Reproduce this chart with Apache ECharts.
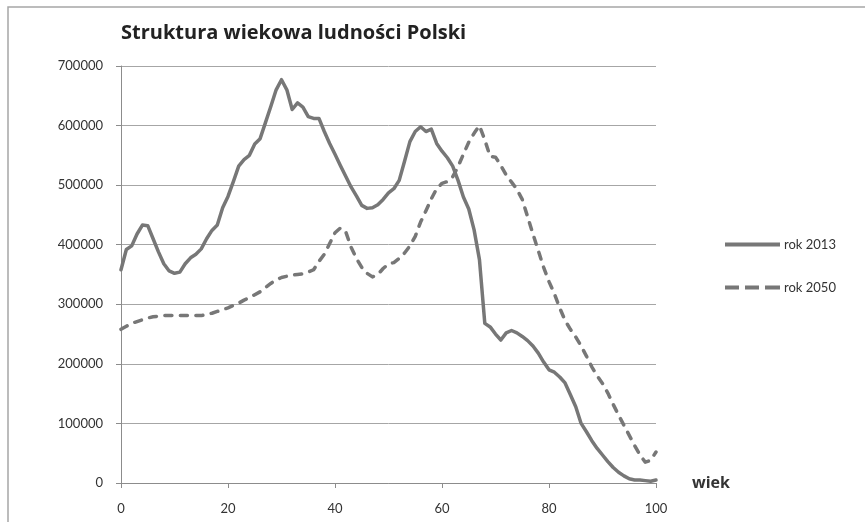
<!DOCTYPE html>
<html>
<head>
<meta charset="utf-8">
<script src="https://cdn.jsdelivr.net/npm/echarts@6/dist/echarts.min.js"></script>
<style>
  html, body { margin: 0; padding: 0; background: #fff; }
  #chart { width: 865px; height: 522px; }
</style>
</head>
<body>
<div id="chart"></div>
<script>
// Population of Poland by single year of age (0..100), persons
const ages = Array.from({ length: 101 }, (_, i) => i);

const pop2013 = [
  358000, 392000, 398000, 418000, 433000, 432000, 410000, 388000, 368000, 356000,
  352000, 354000, 368000, 378000, 384000, 393000, 410000, 424000, 433000, 462000,
  481000, 506000, 532000, 543000, 550000, 569000, 578000, 605000, 632000, 660000,
  677000, 660000, 627000, 638000, 631000, 615000, 612000, 612000, 590000, 570000,
  552000, 533000, 515000, 497000, 482000, 466000, 461000, 462000, 467000, 476000,
  487000, 494000, 508000, 540000, 573000, 590000, 598000, 590000, 594000, 570000,
  557000, 546000, 532000, 508000, 480000, 460000, 425000, 375000, 268000, 262000,
  250000, 240000, 252000, 256000, 252000, 246000, 239000, 230000, 218000, 203000,
  190000, 186000, 178000, 168000, 148000, 128000, 100000, 86000, 71000, 58000,
  47000, 36000, 26000, 18000, 12000, 7000, 5000, 5000, 4000, 3000,
  5000
];

const pop2050 = [
  258000, 263000, 268000, 271000, 274000, 277000, 279000, 280000, 281000, 281000,
  281000, 281000, 281000, 281000, 281000, 281000, 283000, 285000, 288000, 291000,
  294000, 298000, 302000, 307000, 311000, 316000, 321000, 328000, 335000, 341000,
  345000, 347000, 349000, 350000, 351000, 354000, 358000, 372000, 384000, 402000,
  420000, 428000, 422000, 396000, 377000, 362000, 352000, 346000, 350000, 360000,
  368000, 370000, 377000, 386000, 398000, 414000, 438000, 457000, 477000, 494000,
  503000, 506000, 514000, 531000, 552000, 572000, 587000, 600000, 576000, 548000,
  547000, 533000, 517000, 505000, 493000, 476000, 447000, 418000, 390000, 362000,
  338000, 318000, 294000, 273000, 258000, 245000, 230000, 213000, 195000, 180000,
  167000, 151000, 132000, 114000, 97000, 80000, 63000, 47000, 35000, 38000,
  52000
];

const seriesNames = ['rok 2013', 'rok 2050'];
const chartTitle = 'Struktura wiekowa ludności Polski';
const xName = 'wiek';

const FONT = 'Lato, "Open Sans", sans-serif';
const TITLE_FONT = '"Open Sans", Lato, sans-serif';
const LINE = '#777777';
const TEXT = '#333333';

// Legend swatches: a plain stroke and a three-dash stroke
const ICON_SOLID = 'path://M0,0h55v4H0z';
const ICON_DASHED = 'path://M0,0h14v4H0zM20,0h14v4H20zM40,0h15v4H40z';

const chart = echarts.init(document.getElementById('chart'), null, { renderer: 'canvas' });

chart.setOption({
  animation: false,
  backgroundColor: '#ffffff',
  textStyle: { fontFamily: FONT },
  title: {
    text: chartTitle,
    left: 116,
    top: 18,
    textStyle: { fontFamily: TITLE_FONT, fontSize: 20, fontWeight: 'bold', color: '#222' }
  },
  legend: {
    orient: 'vertical',
    left: 725,
    top: 238,
    padding: 0,
    itemWidth: 55,
    itemHeight: 4,
    itemGap: 30,
    data: [
      { name: seriesNames[0], icon: ICON_SOLID },
      { name: seriesNames[1], icon: ICON_DASHED }
    ],
    textStyle: { fontFamily: FONT, fontSize: 13, color: TEXT, padding: [0, 0, 0, -1] }
  },
  grid: { left: 121, right: 209, top: 66, bottom: 39, containLabel: false },
  xAxis: {
    type: 'value',
    min: 0,
    max: 100,
    interval: 20,
    name: xName,
    nameLocation: 'end',
    nameGap: 36,
    nameTextStyle: { fontFamily: TITLE_FONT, fontSize: 16, fontWeight: 'bold', color: TEXT },
    axisLine: { show: true, lineStyle: { color: '#8c8c8c', width: 1 } },
    axisTick: { show: true, inside: false, length: 5, lineStyle: { color: '#8c8c8c' } },
    axisLabel: { margin: 19, fontFamily: FONT, fontSize: 13, color: TEXT },
    splitLine: { show: false }
  },
  yAxis: {
    type: 'value',
    min: 0,
    max: 700000,
    interval: 100000,
    axisLine: { show: true, lineStyle: { color: '#8c8c8c', width: 1 } },
    axisTick: { show: true, inside: false, length: 5, lineStyle: { color: '#8c8c8c' } },
    axisLabel: {
      margin: 18,
      fontFamily: FONT,
      fontSize: 13,
      color: TEXT,
      formatter: (v) => String(v)
    },
    splitLine: { show: true, lineStyle: { color: '#a6a6a6', width: 1 } }
  },
  series: [
    {
      name: seriesNames[0],
      type: 'line',
      data: ages.map((a, i) => [a, pop2013[i]]),
      symbol: 'none',
      smooth: false,
      lineStyle: { color: LINE, width: 3.5, cap: 'round', join: 'round' },
      itemStyle: { color: LINE }
    },
    {
      name: seriesNames[1],
      type: 'line',
      data: ages.map((a, i) => [a, pop2050[i]]),
      symbol: 'none',
      smooth: false,
      lineStyle: { color: LINE, width: 3.5, type: [7, 8.5], cap: 'round', join: 'round' },
      itemStyle: { color: LINE }
    }
  ],
  graphic: [
    {
      type: 'rect',
      silent: true,
      shape: { x: 8, y: 7, width: 870, height: 530 },
      style: { fill: 'none', stroke: '#a6a6a6', lineWidth: 1.5 }
    }
  ]
});
</script>
</body>
</html>
